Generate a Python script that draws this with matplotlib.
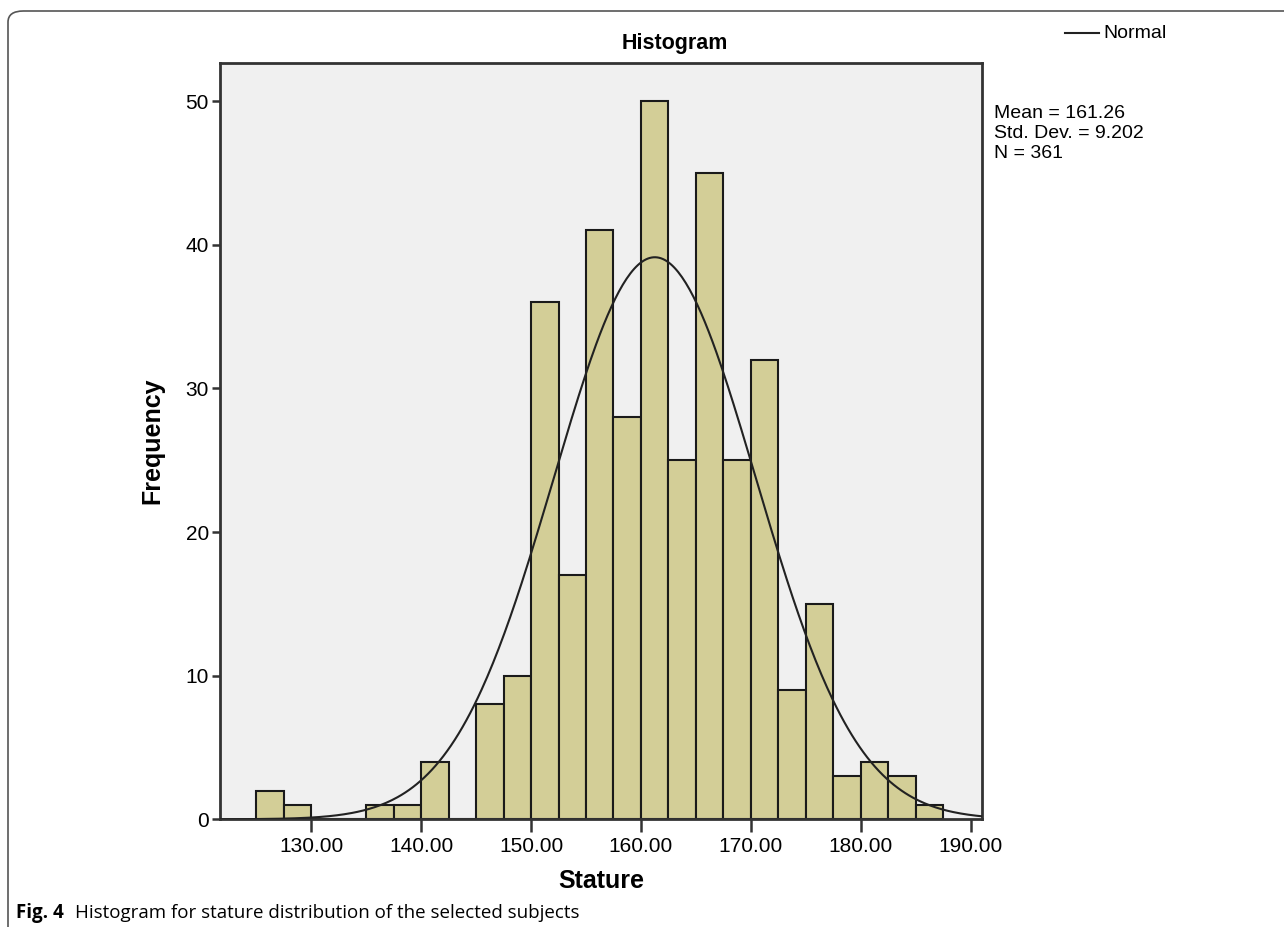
import matplotlib.pyplot as plt
import numpy as np
from matplotlib.patches import FancyBboxPatch

# bin edges (width 2.5) and counts
bin_start = 125.0
bin_width = 2.5
counts = [2, 1, 0, 0, 1, 1, 4, 0, 8, 10, 36, 17, 41, 28, 50, 25, 45, 25, 32, 9, 15, 3, 4, 3, 1]
mean = 161.26
std_dev = 9.202
n_obs = 361
x_ticks = [130, 140, 150, 160, 170, 180, 190]
y_ticks = [0, 10, 20, 30, 40, 50]

plt.rcParams['font.family'] = ['Liberation Sans', 'DejaVu Sans']

W, H = 1284, 927
fig = plt.figure(figsize=(12.84, 9.27), dpi=100)
ax = fig.add_axes([220 / W, 1 - 819.3 / H, (981.7 - 220) / W, (819.3 - 62.7) / H])
ax.set_facecolor('#f0f0f0')

edges = bin_start + bin_width * np.arange(len(counts))
ax.bar(edges, counts, width=bin_width, align='edge', color='#d3ce97',
       edgecolor='#1a1a1a', linewidth=1.5, zorder=2)

# fitted normal curve scaled to counts
xs = np.linspace(121.7, 191.0, 400)
ys = n_obs * bin_width / (std_dev * np.sqrt(2 * np.pi)) * np.exp(-0.5 * ((xs - mean) / std_dev) ** 2)
ax.plot(xs, ys, color='#222222', linewidth=1.5, zorder=3)

ax.set_xlim(121.7, 191.0)
ax.set_ylim(0, 52.67)
ax.set_xticks(x_ticks)
ax.set_xticklabels([f"{t:.2f}" for t in x_ticks])
ax.set_yticks(y_ticks)
ax.tick_params(axis='x', length=9, width=1.8, labelsize=15, pad=4, color='#333333')
ax.tick_params(axis='y', length=6, width=1.8, labelsize=15, pad=2, color='#333333')
for s in ax.spines.values():
    s.set_linewidth(2)
    s.set_color('#333333')

ax.set_xlabel("Stature", fontsize=18, fontweight='bold', va='center')
ax.xaxis.set_label_coords(0.5, (819.3 - 881) / (819.3 - 62.7))
ax.set_ylabel("Frequency", fontsize=18, fontweight='bold', va='center')
ax.yaxis.set_label_coords((152 - 220) / (981.7 - 220), 0.5)

# title, centred over whole chart area
fig.text(675 / W, 1 - 43 / H, "Histogram", fontsize=15.5, fontweight='bold',
         ha='center', va='center')

# legend and stats on the right
fig.add_artist(plt.Line2D([1065 / W, 1099 / W], [1 - 33 / H] * 2,
                          color='#222222', linewidth=1.5))
fig.text(1103 / W, 1 - 33 / H, "Normal", fontsize=14, va='center')
stats = [f"Mean = {mean:.2f}", f"Std. Dev. = {std_dev:.3f}", f"N = {n_obs}"]
for i, line in enumerate(stats):
    fig.text(994 / W, 1 - (113 + 20 * i) / H, line, fontsize=14, va='center')

# caption
fig.text(16 / W, 1 - 913 / H, "Fig. 4", fontsize=13.5, fontweight='bold',
         family='Open Sans', va='center')
fig.text(75 / W, 1 - 913 / H, "Histogram for stature distribution of the selected subjects",
         fontsize=13.5, family='Open Sans', va='center')

# page frame with rounded corner
frame = FancyBboxPatch((8 / W, -0.2), 1.3, 1.2 - 11 / H,
                       boxstyle="round,pad=0,rounding_size=0.012",
                       transform=fig.transFigure, fill=False,
                       edgecolor='#555555', linewidth=1.2)
fig.add_artist(frame)

fig.savefig("out.png", dpi=100)
